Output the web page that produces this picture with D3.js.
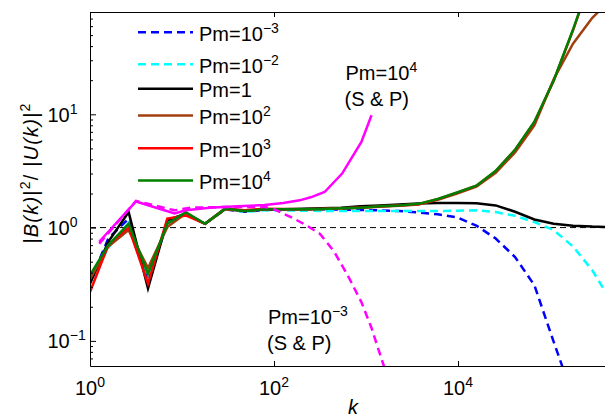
<!DOCTYPE html>
<html>
<head>
<meta charset="utf-8">
<script src="https://cdn.jsdelivr.net/npm/d3@7"></script>
<style>
  body { margin: 0; background: #fff; }
  svg { display: block; font-family: "Liberation Sans", Arial, sans-serif; }
</style>
</head>
<body>
<svg id="chart" width="605" height="417"></svg>
<script>
// wavenumber bins shared by the main runs
const kGrid = [1, 1.58, 2.63, 4.27, 6.92, 11, 17.8, 29.5, 47.9, 77.6, 126, 204, 331, 537, 871,
  1413, 2291, 3715, 6026, 9772, 15849, 25704, 41687, 67608, 109648, 177828, 288403, 467735, 758578];

// |B(k)|^2 / |U(k)|^2 for each Pm
const pm1em3 = [0.33, 0.80, 1.20, 0.33, 1.10, 1.33, 1.08, 1.45, 1.38, 1.43, 1.45, 1.45, 1.45, 1.44, 1.43,
  1.42, 1.40, 1.36, 1.31, 1.23, 1.04, 0.80, 0.55, 0.31, 0.098, 0.032];
const pm1em2 = [0.33, 0.66, 1.10, 0.33, 1.10, 1.33, 1.08, 1.45, 1.38, 1.42, 1.42, 1.41, 1.40, 1.40, 1.40,
  1.40, 1.40, 1.40, 1.40, 1.41, 1.42, 1.37, 1.27, 1.12, 0.95, 0.68, 0.42, 0.22, 0.12];
const pm1 = [0.32, 0.75, 1.37, 0.29, 1.16, 1.33, 1.08, 1.47, 1.40, 1.45, 1.45, 1.47, 1.48, 1.50, 1.54,
  1.57, 1.60, 1.63, 1.65, 1.65, 1.64, 1.57, 1.38, 1.18, 1.08, 1.04, 1.02, 1.01, 1.01];
const pm1e2 = [0.35, 0.68, 0.95, 0.44, 1.01, 1.33, 1.08, 1.45, 1.40, 1.45, 1.45, 1.45, 1.46, 1.48, 1.50,
  1.53, 1.56, 1.60, 1.76, 2.00, 2.30, 3.05, 4.60, 8.0, 20.4, 42, 71, 105, 140];
const pm1e3 = [0.27, 0.70, 1.00, 0.32, 1.20, 1.28, 1.08, 1.47, 1.42, 1.47, 1.46, 1.45, 1.46, 1.48, 1.50,
  1.54, 1.57, 1.61, 1.78, 2.03, 2.34, 3.15, 4.85, 8.5, 19.8, 55, 170];
const pm1e4 = [0.38, 0.70, 1.08, 0.39, 1.08, 1.37, 1.08, 1.47, 1.40, 1.45, 1.45, 1.45, 1.46, 1.48, 1.50,
  1.54, 1.57, 1.62, 1.79, 2.04, 2.34, 3.17, 4.86, 8.6, 19.9, 56, 172];

// S & P comparison runs
const spKPm1e4 = [1.26, 3.16, 8.3, 11, 20, 40, 79, 126, 190, 251, 355, 550, 891, 1148];
const spPm1e4 = [0.75, 1.70, 1.33, 1.42, 1.50, 1.54, 1.58, 1.65, 1.74, 1.85, 2.06, 3.0, 5.7, 9.8];
const spKPm1em3 = [1.26, 3.16, 8.3, 12.6, 31.6, 79.4, 100, 126, 158, 224, 316, 447, 631, 891, 1148, 1585];
const spPm1em3 = [0.72, 1.72, 1.42, 1.50, 1.52, 1.52, 1.45, 1.33, 1.22, 1.05, 0.88, 0.62, 0.38, 0.22, 0.13, 0.058];

const legendExps = ["\u22123", "\u22122", "", "2", "3", "4"];
const xTickVals = [1, 100, 10000];
const xTickExps = ["0", "2", "4"];
const yTickVals = [0.1, 1, 10];
const yTickExps = ["\u22121", "0", "1"];

const pLeft = 90, pRight = 605, pTop = 12, pBottom = 366;
const fs = "20px", sup = "14px";

const svg = d3.select("#chart");

const x = d3.scaleLog().domain([1, 3.96e5]).range([pLeft, pRight]);
const y = d3.scaleLog().domain([0.06, 80]).range([pBottom, pTop]);

svg.append("clipPath").attr("id", "plot")
  .append("rect")
  .attr("x", pLeft).attr("y", pTop)
  .attr("width", pRight - pLeft).attr("height", pBottom - pTop);

// reference level at 1
svg.append("line")
  .attr("x1", pLeft).attr("x2", pRight)
  .attr("y1", y(1)).attr("y2", y(1))
  .attr("stroke", "#000")
  .attr("stroke-width", 1)
  .attr("stroke-dasharray", "6,4");

const line = d3.line()
  .x(d => x(d[0]))
  .y(d => y(d[1]));

const series = [
  { vals: pm1em3, k: kGrid, color: "#0000ff", dash: "8,5" },
  { vals: pm1em2, k: kGrid, color: "#00ffff", dash: "8,5" },
  { vals: pm1, k: kGrid, color: "#000000", dash: null },
  { vals: pm1e2, k: kGrid, color: "#a0400e", dash: null },
  { vals: pm1e3, k: kGrid, color: "#ff0000", dash: null },
  { vals: pm1e4, k: kGrid, color: "#008000", dash: null },
  { vals: spPm1em3, k: spKPm1em3, color: "#ff00ff", dash: "8,5" },
  { vals: spPm1e4, k: spKPm1e4, color: "#ff00ff", dash: null }
];

const lines = svg.append("g").attr("clip-path", "url(#plot)");
series.forEach(s => {
  lines.append("path")
    .datum(s.vals.map((v, i) => [s.k[i], v]))
    .attr("d", line)
    .attr("fill", "none")
    .attr("stroke", s.color)
    .attr("stroke-width", 2.5)
    .attr("stroke-dasharray", s.dash);
});

// axes: ticks point inward
svg.append("g")
  .attr("transform", `translate(0,${pBottom})`)
  .call(d3.axisBottom(x).tickValues(xTickVals).tickSize(-5).tickSizeOuter(0).tickFormat(""));
svg.append("g")
  .attr("transform", `translate(0,${pTop})`)
  .call(d3.axisTop(x).tickValues(xTickVals).tickSize(-5).tickSizeOuter(0).tickFormat(""));
svg.append("g")
  .attr("transform", `translate(${pLeft},0)`)
  .call(d3.axisLeft(y).tickValues(yTickVals).tickSize(-6).tickSizeOuter(0).tickFormat(""));

const minor = [];
[-2, -1, 0, 1].forEach(e => d3.range(2, 10).forEach(m => {
  const v = m * Math.pow(10, e);
  if (v > 0.06 && v < 80) minor.push(v);
}));
svg.append("g")
  .attr("transform", `translate(${pLeft},0)`)
  .call(d3.axisLeft(y).tickValues(minor).tickSize(-3).tickFormat(""))
  .select(".domain").remove();

svg.selectAll(".tick line").attr("stroke", "#000");
svg.selectAll(".domain").attr("stroke", "#000");

// tick labels with superscripts
xTickVals.forEach((v, i) => {
  const t = svg.append("text")
    .attr("x", x(v)).attr("y", 395)
    .attr("text-anchor", "middle")
    .style("font-size", fs);
  t.append("tspan").text("10");
  t.append("tspan").attr("dy", -8).style("font-size", sup).text(xTickExps[i]);
});

yTickVals.forEach((v, i) => {
  const t = svg.append("text")
    .attr("x", 47.5).attr("y", y(v) + 7.5)
    .style("font-size", fs);
  t.append("tspan").text("10");
  t.append("tspan").attr("dy", -8).style("font-size", sup).text(yTickExps[i]);
});

// axis titles
svg.append("text")
  .attr("x", 353).attr("y", 414)
  .attr("text-anchor", "middle")
  .style("font-size", fs)
  .style("font-style", "italic")
  .text("k");

const yl = svg.append("text")
  .attr("transform", "translate(38,173) rotate(-90)")
  .attr("text-anchor", "middle")
  .style("font-size", fs)
  .style("letter-spacing", "1.2px");
yl.append("tspan").text("|");
yl.append("tspan").style("font-style", "italic").text("B(k)");
yl.append("tspan").text("|");
yl.append("tspan").attr("dy", -8).style("font-size", sup).text("2");
yl.append("tspan").attr("dy", 8).text("/ |");
yl.append("tspan").style("font-style", "italic").text("U(k)");
yl.append("tspan").text("|");
yl.append("tspan").attr("dy", -8).style("font-size", sup).text("2");

// legend
const legendBase = [40.7, 72.7, 97.3, 124, 156.7, 189];
series.slice(0, 6).forEach((s, i) => {
  const yb = legendBase[i];
  svg.append("line")
    .attr("x1", 138).attr("x2", 193)
    .attr("y1", yb - 8.5).attr("y2", yb - 8.5)
    .attr("stroke", s.color)
    .attr("stroke-width", 2.5)
    .attr("stroke-dasharray", s.dash);
  const t = svg.append("text")
    .attr("x", 199).attr("y", yb)
    .style("font-size", fs);
  t.append("tspan").text(legendExps[i] === "" ? "Pm=1" : "Pm=10");
  if (legendExps[i] !== "") {
    t.append("tspan").attr("dy", -8).style("font-size", sup).text(legendExps[i]);
  }
});

// annotations for the S & P curves
function note(x0, y0, exp) {
  const t = svg.append("text").attr("x", x0).attr("y", y0).style("font-size", fs);
  t.append("tspan").text("Pm=10");
  t.append("tspan").attr("dy", -8).style("font-size", sup).text(exp);
  svg.append("text").attr("x", x0 - 1).attr("y", y0 + 25.5)
    .style("font-size", fs).text("(S & P)");
}
note(345.5, 80, "4");
note(268, 324, "\u22123");

// frame: top border (right side is cut off)
svg.append("line")
  .attr("x1", pLeft).attr("x2", pRight).attr("y1", pTop + 0.5).attr("y2", pTop + 0.5)
  .attr("stroke", "#000");
</script>
</body>
</html>
